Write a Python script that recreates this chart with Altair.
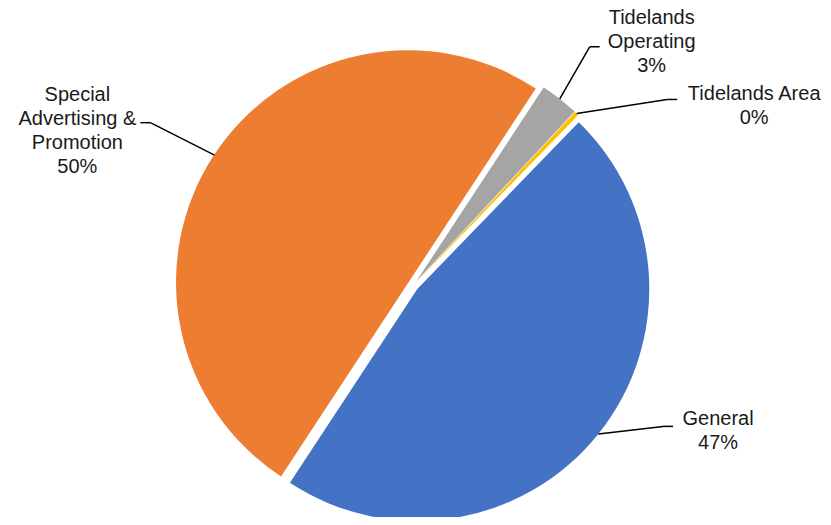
import math
import altair as alt
import pandas as pd

# ---- data ----
CATEGORIES = ["General", "Special Advertising & Promotion", "Tidelands Operating", "Tidelands Area"]
VALUES = [47.0, 50.0, 2.7, 0.3]
LABELS = ["General", "Special|Advertising &|Promotion", "Tidelands|Operating", "Tidelands Area"]
COLORS = ["#4472C4", "#ED7D31", "#A5A5A5", "#FFC000"]

# ---- layout (annotation placement, not data) ----
W, H = 815, 509
CX, CY = 405, 277.5
R = 232
EXPLODE = 5.5
START_DEG = 44.1
LINE_H = 24
# elbow angle (deg), elbow radius, horizontal leader length, text-block center offset
LABEL_LAYOUT = {
    "General": (119.4, 287, 10, 55, 4.5),
    "Special Advertising & Promotion": (301.8, 309, -10, -73, 8),
    "Tidelands Operating": (36.5, 297, 10, 62, -5),
    "Tidelands Area": (53.8, 315, 10, 87, 6.5),
}

df = pd.DataFrame({"category": CATEGORIES, "value": VALUES, "label": LABELS})
df["la"] = [LABEL_LAYOUT[c][0] for c in CATEGORIES]
df["lr"] = [LABEL_LAYOUT[c][1] for c in CATEGORIES]
df["hdx"] = [LABEL_LAYOUT[c][2] for c in CATEGORIES]
df["tdx"] = [LABEL_LAYOUT[c][3] for c in CATEGORIES]
df["tdy"] = [LABEL_LAYOUT[c][4] for c in CATEGORIES]

start = START_DEG * math.pi / 180

base = (
    alt.Chart(df)
    .transform_joinaggregate(total="sum(value)")
    .transform_window(cum="sum(value)")
    .transform_calculate(
        a0=f"{start} + 2*PI*(datum.cum - datum.value)/datum.total",
        a1=f"{start} + 2*PI*datum.cum/datum.total",
    )
    .transform_calculate(mid="(datum.a0 + datum.a1)/2")
    .transform_calculate(
        ex=f"{CX} + {EXPLODE}*sin(datum.mid)",
        ey=f"{CY} - {EXPLODE}*cos(datum.mid)",
        elx=f"{CX} + datum.lr*sin(datum.la*PI/180)",
        ely=f"{CY} - datum.lr*cos(datum.la*PI/180)",
        pct="format(datum.value/datum.total*100, '.0f') + '%'",
    )
    .transform_calculate(
        sx=f"datum.ex + {R}*sin(datum.mid)",
        sy=f"datum.ey - {R}*cos(datum.mid)",
        hx2="datum.elx + datum.hdx",
        tx="datum.elx + datum.tdx",
        lines="split(datum.label + '|' + datum.pct, '|')",
    )
    .transform_calculate(
        ty=f"datum.ely + datum.tdy - (length(datum.lines) - 1) * {LINE_H} / 2",
    )
)

arcs = base.mark_arc(radius=R).encode(
    theta=alt.Theta("a0:Q", scale=None),
    theta2=alt.Theta2("a1:Q"),
    x=alt.X("ex:Q", scale=None, axis=None),
    y=alt.Y("ey:Q", scale=None, axis=None),
    color=alt.Color("category:N", scale=alt.Scale(domain=CATEGORIES, range=COLORS), legend=None),
)

lead1 = base.mark_rule(color="#000000", strokeWidth=1.5).encode(
    x=alt.X("sx:Q", scale=None, axis=None),
    y=alt.Y("sy:Q", scale=None, axis=None),
    x2="elx:Q",
    y2="ely:Q",
)

lead2 = base.mark_rule(color="#000000", strokeWidth=1.5).encode(
    x=alt.X("elx:Q", scale=None, axis=None),
    y=alt.Y("ely:Q", scale=None, axis=None),
    x2="hx2:Q",
    y2="ely:Q",
)

texts = base.mark_text(
    font="Liberation Sans", fontSize=20, lineHeight=LINE_H, align="center", baseline="middle", color="#1a1a1a"
).encode(
    x=alt.X("tx:Q", scale=None, axis=None),
    y=alt.Y("ty:Q", scale=None, axis=None),
    text=alt.Text("lines:N"),
)

chart = (
    alt.layer(arcs, lead1, lead2, texts)
    .properties(width=W, height=H, autosize=alt.AutoSizeParams(type="none"), padding=0)
    .configure_view(strokeWidth=0)
)

chart.save("out.html", embed_options={"renderer": "svg", "actions": False})
